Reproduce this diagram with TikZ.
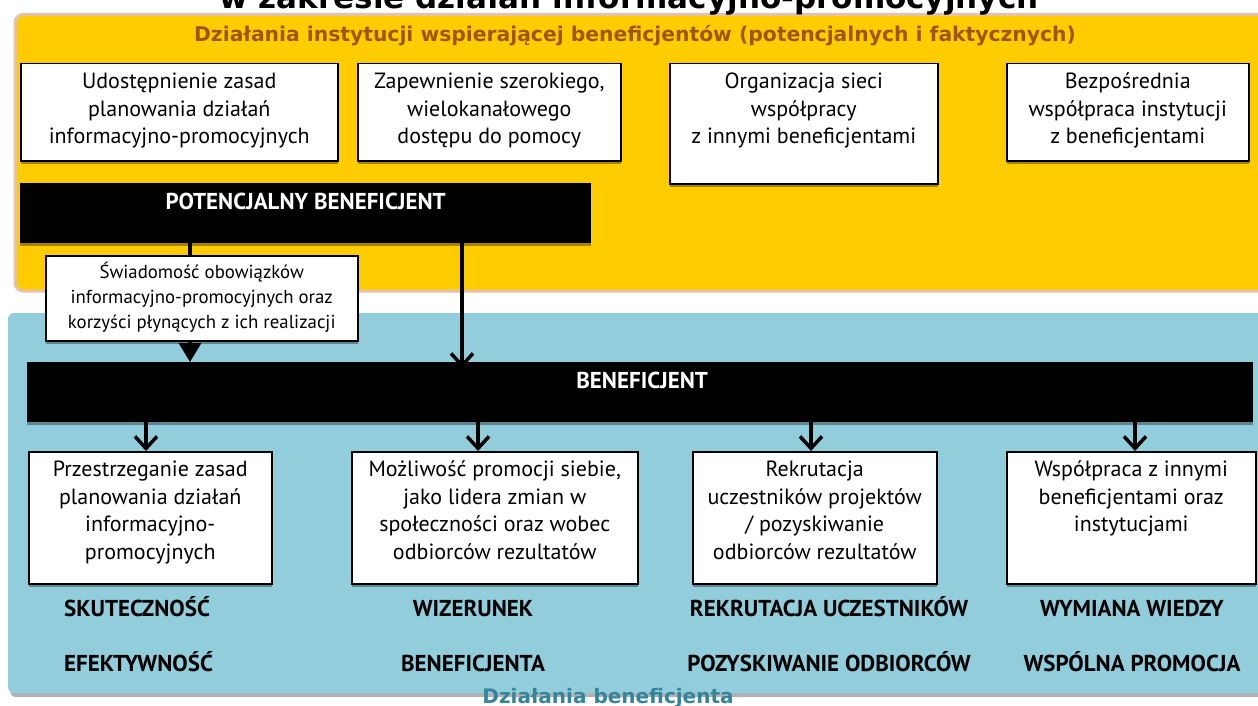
\documentclass[tikz,border=0pt]{standalone}
\usepackage{fontspec}
\setmainfont{PT Sans}
\newfontfamily\hfont{DejaVu Sans}
\usetikzlibrary{arrows.meta,calc,shadows}
\definecolor{ybg}{HTML}{FFCC00}
\definecolor{yborder}{HTML}{E3C3AC}
\definecolor{bbg}{HTML}{92CDDC}
\definecolor{brownt}{HTML}{A0560A}
\definecolor{tealt}{HTML}{31859C}
\newcommand{\boxtxt}[4]{\parbox[t][#2pt][t]{#1pt}{\centering\rule{0pt}{#3pt}#4}}
\begin{document}
\begin{tikzpicture}[x=1pt,y=-1pt,
  shad/.style={drop shadow={shadow xshift=0pt,shadow yshift=-3pt,fill=black,opacity=0.35}},
  tbox/.style={draw=black,line width=1.5pt,fill=white,inner sep=0pt,anchor=north west,
    font=\fontsize{22}{27.5}\selectfont,shad},
  sbox/.style={tbox,font=\fontsize{18.8}{25}\selectfont},
  bar/.style={fill=black,text=white,inner sep=0pt,anchor=north west,
    font=\bfseries\fontsize{23}{24}\selectfont,shad},
  lab/.style={font=\bfseries\fontsize{23}{23}\selectfont,anchor=base,inner sep=0pt},
  varr/.style={line width=3.5pt,-{Straight Barb[length=12pt,width=22pt]}},
  tarr/.style={line width=3.5pt,-{Triangle[length=19pt,width=22pt]}}]
\useasboundingbox (0,0) rectangle (1258,706);
% panels
\fill[black!30,rounded corners=6pt] (10,317) rectangle (1275,697);
\fill[bbg,rounded corners=6pt] (8,313) rectangle (1275,693);
\draw[fill=ybg,draw=yborder,line width=3pt,rounded corners=8pt] (15,14.5) rectangle (1275,291);
% title
\node[anchor=base,inner sep=0pt,font=\hfont\bfseries\fontsize{31}{31}\selectfont] (title) at (629,9) {w zakresie działań informacyjno-promocyjnych};
\node[anchor=base,inner sep=0pt,text=brownt,font=\hfont\bfseries\fontsize{20.3}{20.3}\selectfont] (sub) at (635,42) {Działania instytucji wspierającej beneficjentów (potencjalnych i faktycznych)};
% top boxes
\node[tbox] (b1) at (20,63) {\boxtxt{317}{97}{25}{Udostępnienie zasad\\planowania działań\\informacyjno-promocyjnych}};
\node[tbox] (b2) at (357,63) {\boxtxt{263}{97}{25}{Zapewnienie szerokiego,\\wielokanałowego\\dostępu do pomocy}};
\node[tbox] (b3) at (669,63) {\boxtxt{268}{120}{25}{Organizacja sieci\\współpracy\\z innymi beneficjentami}};
\node[tbox] (b4) at (1006,63) {\boxtxt{242}{97}{25}{Bezpośrednia\\współpraca instytucji\\z beneficjentami}};
% bars
\node[bar] (pot) at (20,183) {\boxtxt{571}{60}{26}{POTENCJALNY BENEFICJENT}};
\node[bar] (ben) at (27,362) {\boxtxt{1226}{60}{26}{\hspace*{4pt}BENEFICJENT}};
% arrows from potential beneficiary
\draw[tarr] ([xshift=170pt]pot.south west) -- ([xshift=163pt]ben.north west);
\draw[varr] ([xshift=442pt]pot.south west) -- ([xshift=435pt,yshift=-6pt]ben.north west);
\node[sbox] (swi) at (45,255) {\boxtxt{312}{85}{23}{Świadomość obowiązków\\informacyjno-promocyjnych oraz\\korzyści płynących z ich realizacji}};
% bottom boxes
\node[tbox] (bA) at (28,451) {\boxtxt{243}{132}{25}{Przestrzeganie zasad\\planowania działań\\informacyjno-\\promocyjnych}};
\node[tbox] (bB) at (351,451) {\boxtxt{286}{132}{25}{Możliwość promocji siebie,\\jako lidera zmian w\\społeczności oraz wobec\\odbiorców rezultatów}};
\node[tbox] (bC) at (692,451) {\boxtxt{244}{132}{25}{Rekrutacja\\uczestników projektów\\/ pozyskiwanie\\odbiorców rezultatów}};
\node[tbox] (bD) at (1006,451) {\boxtxt{249}{132}{25}{Współpraca z innymi\\beneficjentami oraz\\instytucjami}};
% arrows to bottom boxes
\coordinate (aA) at ($(bA.north west)+(118,0)$);
\coordinate (aB) at ($(bB.north west)+(127,0)$);
\coordinate (aC) at ($(bC.north west)+(119,0)$);
\coordinate (aD) at ($(bD.north west)+(129,0)$);
\foreach \c in {aA,aB,aC,aD} {\draw[varr] (\c |- ben.south) -- (\c);}
% labels
\node[lab,anchor=base west] (lA1) at (64,616) {SKUTECZNOŚĆ};
\node[lab,anchor=base west] (lA2) at (64,671) {EFEKTYWNOŚĆ};
\node[lab] (lB1) at (473,616) {WIZERUNEK};
\node[lab] (lB2) at (473,671) {BENEFICJENTA};
\node[lab] (lC1) at (829,616) {REKRUTACJA UCZESTNIKÓW};
\node[lab] (lC2) at (829,671) {POZYSKIWANIE ODBIORCÓW};
\node[lab] (lD1) at (1132,616) {WYMIANA WIEDZY};
\node[lab] (lD2) at (1132,671) {WSPÓLNA PROMOCJA};
\node[anchor=base,inner sep=0pt,text=tealt,font=\hfont\bfseries\fontsize{20}{20}\selectfont] (foot) at (608,703) {Działania beneficjenta};
\end{tikzpicture}
\end{document}
